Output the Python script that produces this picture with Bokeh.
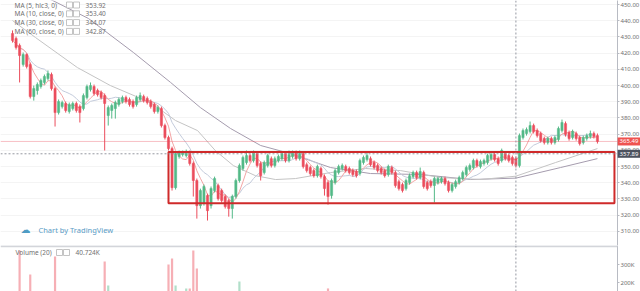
import pandas as pd
from bokeh.plotting import figure
from bokeh.layouts import column
from bokeh.models import ColumnDataSource, Range1d, FixedTicker, NumeralTickFormatter, Span, Label
from bokeh.core.properties import value
from bokeh.embed import file_html
from bokeh.resources import INLINE

# ---- daily OHLC (bar index 0 .. 165) ----
open_ = [
    432.1, 429.0, 424.7, 413.0, 419.1, 413.0, 393.2, 396.9, 399.4, 401.9,
    404.3, 406.8, 398.1, 383.3, 387.0, 388.9, 384.0, 385.8, 388.9, 387.0,
    385.8, 392.6, 397.5, 399.4, 396.9, 395.7, 393.8, 381.5, 384.6, 385.8,
    388.3, 390.1, 392.6, 391.4, 390.1, 388.3, 391.4, 393.2, 392.0, 390.1,
    388.3, 384.0, 385.8, 375.3, 367.9, 361.1, 337.0, 356.2, 357.4, 356.8,
    358.6, 351.9, 341.4, 325.9, 327.2, 332.1, 325.9, 335.2, 338.3, 335.2,
    331.5, 329.0, 324.1, 331.5, 341.4, 348.8, 352.5, 356.8, 353.7, 358.0,
    351.9, 346.3, 350.6, 354.9, 350.6, 353.7, 354.9, 358.0, 353.7, 356.2,
    358.6, 354.9, 358.0, 351.2, 349.4, 347.5, 344.4, 348.8, 343.8, 340.1,
    332.1, 340.1, 346.3, 348.8, 350.0, 348.8, 347.5, 346.9, 345.7, 352.5,
    354.3, 354.9, 352.5, 350.6, 348.8, 347.5, 345.1, 349.4, 346.3, 340.7,
    338.9, 336.4, 340.1, 343.8, 346.3, 343.2, 346.3, 340.1, 340.7, 338.3,
    340.1, 340.7, 342.6, 340.1, 335.2, 337.7, 340.1, 342.6, 345.1, 348.2,
    349.4, 353.7, 350.0, 351.9, 352.5, 354.9, 357.4, 354.9, 353.7, 358.0,
    356.8, 355.6, 354.9, 350.6, 367.9, 370.4, 371.6, 375.3, 372.2, 370.4,
    367.3, 364.8, 367.3, 364.8, 366.7, 372.2, 376.5, 371.0, 367.9, 370.4,
    367.9, 364.8, 367.3, 368.5, 370.4, 369.1]
high = [
    434.0, 430.2, 425.9, 420.4, 419.8, 414.2, 400.0, 401.9, 404.3, 406.8,
    409.3, 408.0, 399.4, 391.4, 390.7, 390.1, 389.5, 390.1, 390.1, 388.3,
    395.1, 400.6, 401.9, 400.6, 398.1, 396.9, 395.1, 387.7, 388.9, 390.7,
    392.6, 393.8, 393.8, 392.6, 391.4, 393.8, 395.7, 394.4, 393.2, 391.4,
    389.5, 387.7, 387.0, 376.5, 369.1, 362.3, 359.3, 359.9, 359.9, 360.5,
    359.9, 353.1, 342.6, 336.4, 338.9, 333.3, 337.7, 343.8, 339.5, 336.4,
    332.7, 330.2, 332.7, 342.6, 351.9, 356.8, 359.9, 358.0, 359.9, 359.3,
    353.1, 353.7, 358.0, 356.2, 356.2, 357.4, 359.3, 359.3, 359.9, 359.9,
    359.9, 359.9, 359.3, 352.5, 350.6, 348.8, 351.2, 350.0, 345.1, 341.4,
    342.6, 348.8, 351.2, 351.9, 351.2, 350.0, 348.8, 348.2, 354.9, 356.8,
    358.6, 356.2, 353.7, 351.9, 350.0, 348.8, 351.2, 350.6, 347.5, 342.0,
    340.1, 342.6, 345.7, 347.5, 347.5, 349.4, 347.5, 341.4, 342.0, 343.8,
    343.8, 343.8, 343.8, 341.4, 340.1, 342.0, 344.4, 347.5, 350.6, 351.9,
    354.9, 354.9, 354.3, 354.9, 358.0, 358.6, 358.6, 356.2, 361.1, 359.3,
    358.0, 356.8, 356.2, 370.4, 373.5, 374.1, 377.8, 376.5, 373.5, 371.6,
    368.5, 368.5, 368.5, 369.1, 374.7, 379.0, 377.8, 372.2, 372.8, 371.6,
    369.1, 369.1, 370.4, 372.2, 371.6, 370.4]
low = [
    426.5, 422.2, 401.9, 411.7, 410.5, 392.0, 390.7, 394.4, 398.1, 400.6,
    403.1, 396.9, 374.7, 382.1, 385.8, 383.3, 382.7, 384.6, 383.3, 377.2,
    384.6, 391.4, 396.3, 393.8, 393.2, 391.4, 359.9, 375.3, 379.6, 379.6,
    387.0, 388.9, 388.9, 387.0, 385.8, 387.0, 390.1, 389.5, 388.3, 385.8,
    382.7, 382.7, 374.1, 366.7, 359.9, 335.2, 335.8, 354.9, 356.2, 355.6,
    350.6, 331.5, 317.9, 324.1, 325.9, 316.7, 324.1, 334.0, 329.0, 327.8,
    324.1, 319.1, 317.9, 330.2, 340.1, 347.5, 351.2, 352.5, 352.5, 349.4,
    341.4, 345.1, 349.4, 349.4, 349.4, 352.5, 353.7, 352.5, 352.5, 354.9,
    353.7, 353.7, 348.8, 346.3, 344.4, 343.2, 343.2, 342.6, 332.1, 326.5,
    330.2, 338.9, 345.1, 347.5, 346.3, 345.1, 343.8, 343.2, 344.4, 351.2,
    353.1, 350.0, 348.2, 346.3, 345.1, 343.2, 343.8, 345.1, 337.0, 335.2,
    334.0, 335.2, 338.9, 342.6, 342.0, 342.0, 336.4, 335.2, 337.0, 327.8,
    338.9, 339.5, 338.3, 334.0, 334.0, 336.4, 338.9, 341.4, 343.8, 346.9,
    348.2, 349.4, 348.8, 350.6, 351.2, 353.7, 353.1, 350.6, 352.5, 353.7,
    352.5, 350.6, 349.4, 349.4, 366.7, 369.1, 370.4, 370.4, 367.9, 364.8,
    363.6, 363.6, 363.6, 363.6, 365.4, 371.0, 368.5, 366.0, 366.7, 366.0,
    363.0, 363.6, 366.0, 367.3, 367.3, 364.2]
close = [
    427.8, 423.5, 418.5, 419.1, 411.7, 393.2, 398.1, 400.6, 403.1, 405.6,
    407.4, 398.1, 383.3, 390.1, 389.5, 384.6, 388.3, 388.9, 384.6, 383.3,
    393.8, 399.4, 400.0, 395.1, 394.4, 392.6, 388.9, 386.4, 387.7, 389.5,
    391.4, 392.6, 390.1, 388.3, 387.0, 392.6, 393.8, 390.7, 389.5, 387.0,
    384.0, 386.4, 375.3, 367.9, 361.1, 337.0, 358.0, 358.6, 358.6, 359.3,
    351.9, 341.4, 325.9, 335.2, 337.7, 322.8, 336.4, 342.6, 330.2, 329.0,
    325.3, 324.1, 331.5, 341.4, 350.6, 355.6, 356.8, 353.7, 358.6, 350.6,
    344.4, 352.5, 356.8, 350.6, 354.9, 356.2, 358.0, 353.7, 357.4, 358.6,
    354.9, 358.0, 350.0, 347.5, 345.7, 344.4, 350.0, 343.8, 336.4, 331.5,
    341.4, 347.5, 350.0, 350.6, 347.5, 346.3, 345.1, 344.4, 353.7, 355.6,
    356.8, 351.2, 349.4, 347.5, 346.3, 344.4, 350.0, 346.3, 338.3, 336.4,
    335.2, 341.4, 344.4, 346.3, 343.2, 346.9, 337.7, 336.4, 338.3, 342.6,
    342.6, 342.6, 339.5, 335.2, 338.9, 340.7, 343.2, 346.3, 349.4, 350.6,
    353.7, 350.6, 353.1, 353.7, 356.8, 357.4, 354.3, 351.9, 359.9, 354.9,
    353.7, 351.9, 350.6, 369.1, 372.2, 372.8, 375.3, 371.6, 369.1, 366.0,
    364.8, 367.3, 364.8, 367.9, 373.5, 377.2, 369.8, 367.3, 371.6, 367.3,
    364.2, 367.9, 369.1, 370.4, 368.5, 365.49]
# volume in thousands of shares
volume_k = [
    95, 110, 378, 120, 105, 244, 130, 90, 85, 80,
    75, 100, 344, 125, 70, 80, 65, 60, 70, 110,
    115, 120, 85, 75, 70, 90, 317, 183, 110, 95,
    80, 70, 65, 60, 70, 85, 75, 60, 55, 70,
    90, 80, 120, 140, 300, 333, 183, 110, 95, 167,
    167, 378, 278, 140, 120, 145, 130, 110, 95, 90,
    100, 115, 130, 140, 206, 120, 100, 80, 85, 90,
    110, 95, 85, 70, 65, 60, 70, 65, 75, 60,
    55, 60, 80, 75, 70, 65, 80, 85, 130, 167,
    140, 110, 90, 70, 60, 55, 50, 55, 90, 80,
    75, 60, 55, 50, 45, 50, 60, 55, 85, 75,
    70, 80, 70, 60, 55, 65, 90, 80, 70, 110,
    75, 60, 55, 70, 75, 65, 70, 80, 85, 70,
    90, 60, 55, 50, 75, 65, 55, 50, 80, 55,
    45, 50, 40.724, 130, 110, 85, 95, 80, 65, 70,
    55, 50, 45, 55, 90, 100, 85, 65, 55, 50,
    60, 45, 40, 50, 45, 40]

# long moving averages (they carry history from before the first bar)
ma30_bar = [0, 6.5, 18.3, 27.6, 38.9, 46.0, 52.2, 57.2, 62.3, 68.5, 74.2, 79.8,
            89.7, 99.6, 109.5, 120.7, 132.0, 142, 153.2, 165]
ma30_val = [440.1, 429.6, 411.1, 400.0, 389.5, 378.4, 372.2, 359.9, 350.6, 344.4,
            342.0, 342.6, 346.3, 348.8, 347.5, 343.2, 342.0, 344.07, 352.5, 361.1]
ma60_bar = [5, 11.3, 21.4, 34.1, 44.6, 53.0, 61.5, 70.0, 78.4, 89.7, 101.0, 115.1,
            129.2, 142, 154.6, 165]
ma60_val = [458.0, 452.5, 441.4, 420.4, 401.9, 386.4, 373.5, 363.0, 358.0, 349.4,
            345.7, 345.1, 342.0, 342.87, 349.4, 354.9]

price_ticks = [310, 320, 330, 340, 350, 360, 370, 380, 390, 400, 410, 420, 430, 440, 450]
volume_ticks = [200000, 300000]
volume_tick_labels = ["200K", "300K"]

last_price = 365.49
cursor_bar = 142
cursor_price = 357.89
legend_names = ["MA (5, hlc3, 0)", "MA (10, close, 0)", "MA (30, close, 0)", "MA (60, close, 0)"]
legend_values = ["353.92", "353.40", "344.07", "342.87"]
volume_name = "Volume (20)"
volume_value = "40.724K"

# zone drawn on the chart (bar index / price)
zone_left, zone_right = 44.0, 169.8
zone_top, zone_bottom = 359.0, 327.3

UP, DOWN = "#53b987", "#eb4d5c"
FONT = "Noto Sans"
GREY = "#707070"
AXIS = "#b8bbc3"

n = len(close)
closes = pd.Series(close)
src = ColumnDataSource(dict(
    x=list(range(n)),
    high=high, low=low,
    top=[max(o, c) for o, c in zip(open_, close)],
    bottom=[min(o, c) for o, c in zip(open_, close)],
    color=[UP if c >= o else DOWN for o, c in zip(open_, close)],
    vol=[v * 1000 for v in volume_k],
    ma5=closes.rolling(5, min_periods=1).mean(),
    ma10=closes.rolling(10, min_periods=1).mean(),
))

# plot frames: 617 px wide, price pane 245 px, volume pane 46 px
FRAME_W, PRICE_H, VOL_H = 617, 245, 46
x_range = Range1d(-3.39, 170.66)
p_range = Range1d(301.3, 452.47)
v_range = Range1d(150000, 405600)


def bar_at(px):
    return x_range.start + px * (x_range.end - x_range.start) / FRAME_W


def price_at(py):
    return p_range.end - py * (p_range.end - p_range.start) / PRICE_H


def vol_at(py):
    return v_range.end - py * (v_range.end - v_range.start) / VOL_H


def make_fig(h, y_range):
    f = figure(frame_width=FRAME_W, frame_height=h, x_range=x_range, y_range=y_range,
               output_backend="svg", toolbar_location=None,
               x_axis_location=None, y_axis_location="right",
               min_border_left=0, min_border_right=23, min_border_top=0, min_border_bottom=0,
               background_fill_color="white", border_fill_color="white",
               outline_line_color=None)
    ax = f.yaxis[0]
    ax.axis_line_color = AXIS
    ax.major_tick_line_color = AXIS
    ax.major_tick_out = 2
    ax.major_tick_in = 0
    ax.minor_tick_line_color = None
    ax.major_label_standoff = 1
    ax.major_label_text_font = FONT
    ax.major_label_text_font_size = "6px"
    ax.major_label_text_color = GREY
    f.xgrid.visible = False
    return f


p = make_fig(PRICE_H, p_range)
p.yaxis.ticker = FixedTicker(ticks=price_ticks)
p.yaxis.formatter = NumeralTickFormatter(format="0.00")
p.ygrid.grid_line_color = "#f4f4f4"

p.add_layout(Span(location=last_price, dimension="width", line_color=DOWN,
                  line_alpha=0.35, line_width=1))
p.add_layout(Span(location=cursor_price, dimension="width", line_color="#9598a1",
                  line_dash="2 2", line_width=1))
p.add_layout(Span(location=cursor_bar, dimension="height", line_color="#9598a1",
                  line_dash="2 2", line_width=1))

# moving averages
p.line(ma60_bar, ma60_val, line_color="#a59cae", line_width=1)
p.line(ma30_bar, ma30_val, line_color="#c4c4c4", line_width=1)
p.line("x", "ma10", source=src, line_color="#c3cbdb", line_width=1)
p.line("x", "ma5", source=src, line_color="#f3a5a5", line_width=1)

# candles
p.segment(x0="x", y0="high", x1="x", y1="low", line_color="color", line_width=1, source=src)
p.vbar(x="x", width=0.62, top="top", bottom="bottom", fill_color="color",
       line_color="color", line_width=0.5, source=src)

# zone rectangle
p.quad(left=[zone_left], right=[zone_right], top=[zone_top], bottom=[zone_bottom],
       fill_color=None, line_color="#cf2a2a", line_width=2)

# indicator legend
rows_y = [4.5, 13.3, 22.1, 30.9]
p.text(x=[bar_at(14)] * 4, y=[price_at(r) for r in rows_y], text=legend_names,
       text_font=value(FONT), text_font_size="6.5px", text_color=GREY,
       text_baseline="middle")
p.rect(x=[bar_at(69)] * 4 + [bar_at(76)] * 4, y=[price_at(r) for r in rows_y] * 2,
       width=6, height=6, width_units="screen", height_units="screen",
       fill_color="white", line_color="#b5b5b5", line_width=0.8)
p.text(x=[bar_at(85)] * 4, y=[price_at(r) for r in rows_y], text=legend_values,
       text_font=value(FONT), text_font_size="6.5px", text_color=GREY,
       text_baseline="middle")

# watermark
p.text(x=[bar_at(20)], y=[price_at(229)], text=["\u2601"], text_font=value("DejaVu Sans"),
       text_font_size="10px", text_color="#4f9cc4", text_baseline="middle")
p.text(x=[bar_at(38)], y=[price_at(229)], text=["Chart by TradingView"],
       text_font=value(FONT), text_font_size="7.5px", text_color="#5a9cc6",
       text_baseline="middle")

# price tags on the scale (kept in the scale's side panel so they are not clipped)
label_x = bar_at(628.5)
p.add_layout(Label(x=label_x, y=last_price, text=f"{last_price:.2f}", text_align="center",
                   text_baseline="middle", text_font=FONT, text_font_size="6px",
                   text_color="white", background_fill_color="#ef5350", padding=2), "right")
p.add_layout(Label(x=label_x, y=cursor_price, text=f"{cursor_price:.2f}", text_align="center",
                   text_baseline="middle", text_font=FONT, text_font_size="6px",
                   text_color="white", background_fill_color="#4c525e", padding=2), "right")

# volume pane
v = make_fig(VOL_H, v_range)
v.yaxis.ticker = FixedTicker(ticks=volume_ticks)
v.yaxis.major_label_overrides = dict(zip(volume_ticks, volume_tick_labels))
v.ygrid.visible = False
v.vbar(x="x", width=0.62, top="vol", bottom=0, fill_color="color", fill_alpha=0.45,
       line_color=None, source=src)
v.add_layout(Span(location=vol_at(0.8), dimension="width", line_color="#d3d5da", line_width=2))
v.add_layout(Span(location=cursor_bar, dimension="height", line_color="#9598a1",
                  line_dash="2 2", line_width=1))
v.text(x=[bar_at(15)], y=[vol_at(7)], text=[volume_name], text_font=value(FONT),
       text_font_size="6.5px", text_color=GREY, text_baseline="middle")
v.rect(x=[bar_at(59), bar_at(66)], y=[vol_at(7)] * 2, width=6, height=6,
       width_units="screen", height_units="screen", fill_color="white",
       line_color="#b5b5b5", line_width=0.8)
v.text(x=[bar_at(75)], y=[vol_at(7)], text=[volume_value], text_font=value(FONT),
       text_font_size="6.5px", text_color=GREY, text_baseline="middle")

layout = column(p, v, spacing=0)
open("out.html", "w").write(file_html(layout, INLINE))
